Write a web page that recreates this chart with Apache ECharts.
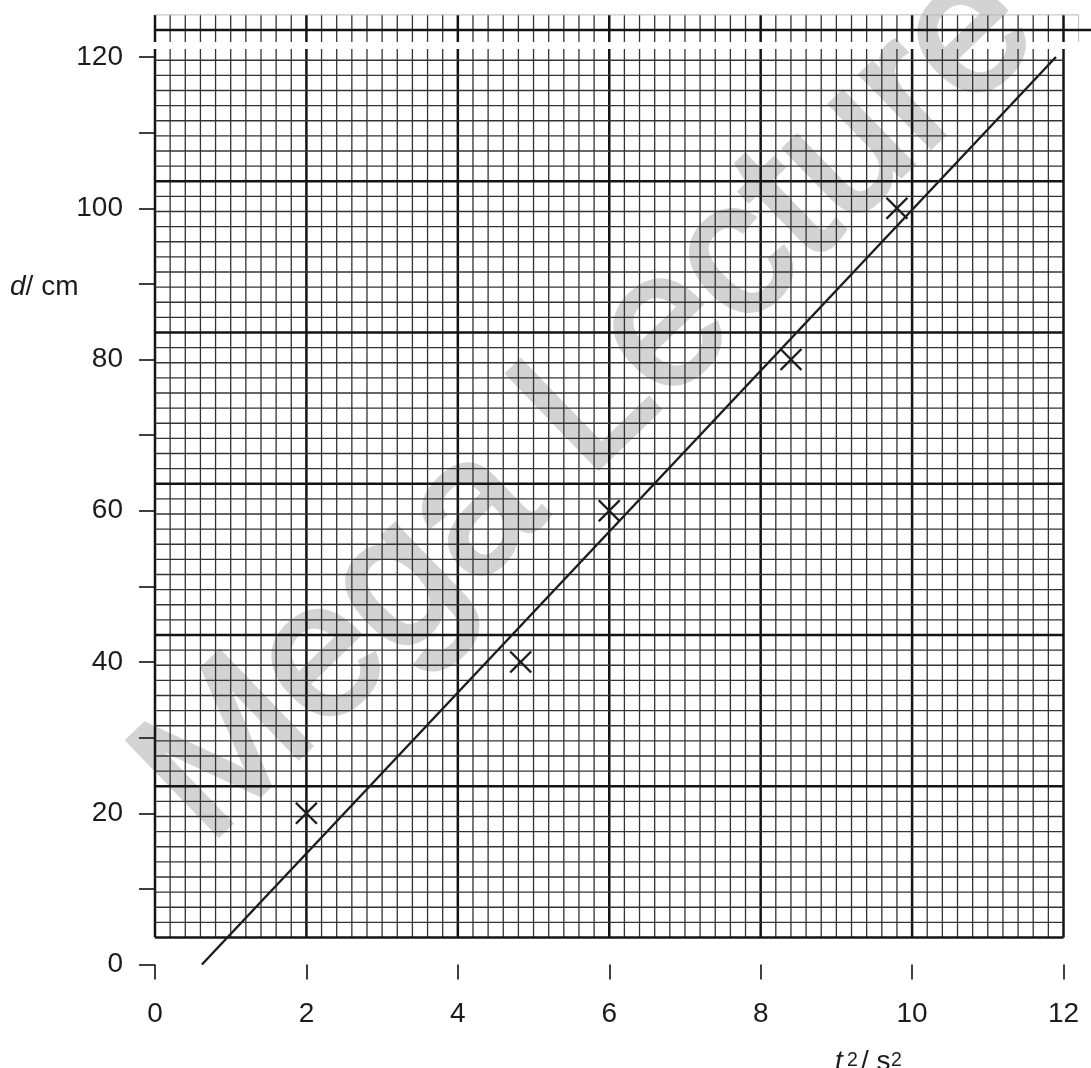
<!DOCTYPE html>
<html>
<head>
<meta charset="utf-8">
<script src="https://cdn.jsdelivr.net/npm/echarts@6/dist/echarts.min.js"></script>
<style>
  html, body { margin: 0; padding: 0; background: #ffffff; }
  #chart { width: 1091px; height: 1068px; }
</style>
</head>
<body>
<div id="chart"></div>
<script>
// Measurements: t^2 / s^2 against d / cm
const tSquared = [2.0, 4.83, 6.0, 8.4, 9.8];
const distance = [20, 40, 60, 80, 100];

// Best-fit straight line, end points [t^2, d]
const fitLine = [[0.62, 0], [11.9, 120]];

// Axis ranges and tick steps
const xRange = [0, 12];
const yRange = [0, 120];
const xTickStep = 2;
const yTickStep = 10;
const yLabelStep = 20;

// Graph-paper layout (in axis units): the printed grid sits a little above the origin
const PAPER = {
  yBase: 3.57,        // bottom edge of the ruled area
  yTop: 121.06,       // top of the main ruled block
  stripBottom: 121.98,
  stripTop: 125.57,
  minorX: 0.2,
  minorY: 2,
  xEnd: 12,
  stripXEnd: 12.2
};

// Build the ruled lines of the graph paper: [x1, y1, x2, y2, kind]
// kind: 0 = minor, 1 = major, 2 = faint
function buildPaper() {
  const lines = [];
  const nx = Math.round(PAPER.xEnd / PAPER.minorX);
  for (let i = 0; i <= nx; i++) {
    const x = +(i * PAPER.minorX).toFixed(4);
    const kind = i % 10 === 0 ? 1 : 0;
    lines.push([x, PAPER.yBase, x, PAPER.yTop, kind]);
    lines.push([x, PAPER.stripBottom, x, PAPER.stripTop, kind]);
  }
  // one extra column in the strip beyond the right border
  lines.push([PAPER.stripXEnd, PAPER.stripBottom, PAPER.stripXEnd, PAPER.stripTop, 2]);
  for (let k = 0; ; k++) {
    const y = PAPER.yBase + k * PAPER.minorY;
    if (y > PAPER.yTop) break;
    lines.push([0, y, PAPER.xEnd, y, k % 10 === 0 ? 1 : 0]);
  }
  // top strip rulings
  lines.push([0, PAPER.yBase + 60 * PAPER.minorY, 13, PAPER.yBase + 60 * PAPER.minorY, 1]);
  lines.push([0, PAPER.stripTop, PAPER.stripXEnd, PAPER.stripTop, 2]);
  return lines;
}

const FONT = '"Liberation Sans", Arial, Helvetica, sans-serif';
const INK = '#1c1c1c';
const LABEL_SIZE = 28;
const SUP_SIZE = 19.5;
// distance from the em-box middle down to the alphabetic baseline, in em
const MID_TO_BASE = 0.3465;

// text piece positioned by its alphabetic baseline
function textPiece(str, x, baseline, size, italic) {
  return {
    type: 'text',
    x: x, y: baseline - MID_TO_BASE * size,
    style: {
      text: str,
      font: (italic ? 'italic ' : '') + size + 'px ' + FONT,
      fill: INK,
      textAlign: 'left',
      textVerticalAlign: 'middle'
    }
  };
}

// diagonal watermark, anchored at the start of its baseline
const WM = { size: 190, angle: 44, baseX: 217, baseY: 855 };
const wmRad = WM.angle * Math.PI / 180;
const wmLift = MID_TO_BASE * WM.size;

const chart = echarts.init(document.getElementById('chart'), null, { renderer: 'canvas' });

const option = {
  backgroundColor: '#ffffff',
  animation: false,
  grid: { left: 155, right: 27.5, top: 57, bottom: 103.5, containLabel: false },
  xAxis: {
    type: 'value',
    min: xRange[0],
    max: xRange[1],
    interval: xTickStep,
    axisLine: { show: false },
    axisTick: { show: true, inside: false, length: 15, lineStyle: { color: '#2a2a2a', width: 1.8 } },
    axisLabel: { margin: 36, color: INK, fontSize: LABEL_SIZE, fontFamily: FONT },
    splitLine: { show: false }
  },
  yAxis: {
    type: 'value',
    min: yRange[0],
    max: yRange[1],
    interval: yTickStep,
    axisLine: { show: false },
    axisTick: { show: true, inside: false, length: 16, lineStyle: { color: '#2a2a2a', width: 1.8 } },
    axisLabel: {
      margin: 32, color: INK, fontSize: LABEL_SIZE, fontFamily: FONT,
      formatter: v => (v % yLabelStep === 0 ? String(v) : '')
    },
    splitLine: { show: false }
  },
  graphic: [
    {
      type: 'text',
      z: -10,
      x: WM.baseX - wmLift * Math.sin(wmRad),
      y: WM.baseY - wmLift * Math.cos(wmRad),
      rotation: wmRad,
      style: {
        text: 'Mega Lecture',
        font: WM.size + 'px ' + FONT,
        fill: '#d3d3d3',
        stroke: '#d3d3d3',
        lineWidth: 5,
        lineJoin: 'round',
        textAlign: 'left',
        textVerticalAlign: 'middle'
      }
    },
    {
      type: 'text',
      x: 10, y: 287,
      style: {
        text: '{i|d}{n|/ cm}',
        textVerticalAlign: 'middle',
        rich: {
          i: { fontSize: LABEL_SIZE, fontFamily: FONT, fontStyle: 'italic', fill: INK },
          n: { fontSize: LABEL_SIZE, fontFamily: FONT, fill: INK }
        }
      }
    },
    // horizontal axis title: t² / s²
    textPiece('t', 835, 1072, LABEL_SIZE, true),
    textPiece('2', 847, 1067, SUP_SIZE, false),
    textPiece('/ s', 861, 1072, LABEL_SIZE, false),
    textPiece('2', 891, 1067, SUP_SIZE, false)
  ],
  series: [
    {
      name: 'paper',
      type: 'custom',
      z: 1,
      silent: true,
      clip: false,
      encode: { x: [0, 2], y: [1, 3] },
      data: buildPaper(),
      renderItem(params, api) {
        const p1 = api.coord([api.value(0), api.value(1)]);
        const p2 = api.coord([api.value(2), api.value(3)]);
        const kind = api.value(4);
        const style = kind === 1
          ? { stroke: '#141414', lineWidth: 2.5 }
          : kind === 2
            ? { stroke: '#b8b8b8', lineWidth: 1 }
            : { stroke: '#333333', lineWidth: 1.3 };
        return { type: 'line', shape: { x1: p1[0], y1: p1[1], x2: p2[0], y2: p2[1] }, style };
      }
    },
    {
      name: 'best fit',
      type: 'line',
      z: 3,
      data: fitLine,
      symbol: 'none',
      silent: true,
      clip: false,
      lineStyle: { color: INK, width: 2.4 }
    },
    {
      name: 'd',
      type: 'custom',
      z: 4,
      clip: false,
      data: tSquared.map((t, i) => [t, distance[i]]),
      renderItem(params, api) {
        const c = api.coord([api.value(0), api.value(1)]);
        const h = 10.5;
        const st = { stroke: INK, lineWidth: 2.4 };
        return {
          type: 'group',
          children: [
            { type: 'line', shape: { x1: c[0] - h, y1: c[1] - h, x2: c[0] + h, y2: c[1] + h }, style: st },
            { type: 'line', shape: { x1: c[0] - h, y1: c[1] + h, x2: c[0] + h, y2: c[1] - h }, style: st }
          ]
        };
      }
    }
  ]
};

chart.setOption(option);
</script>
</body>
</html>
